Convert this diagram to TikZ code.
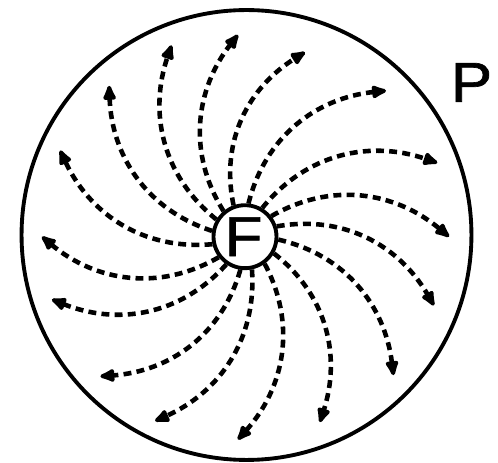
\documentclass[tikz,border=0pt]{standalone}
\usepackage{fontspec}
\setmainfont{Liberation Sans}
\usetikzlibrary{arrows.meta,calc}
\begin{document}
\begin{tikzpicture}[x=0.02cm,y=0.02cm,
  ring/.style={draw, line width=2.2pt, circle, inner sep=0pt},
  flow/.style={line width=2.6pt, dash pattern=on 4.5pt off 3pt,
    -{Latex[length=11pt,width=9pt,round]}},
  letter/.style={font=\fontsize{32}{32}\selectfont\addfontfeature{FakeBold=1.2}, inner sep=0pt}]
\useasboundingbox (0,0) rectangle (498,463);
\node[ring, minimum size=9.0cm] (Pc) at (246.5,228) {};
\node[ring, minimum size=1.26cm] (F) at (245,226.3) {};
\node[letter] (Fl) at (243.5,226.3) {\scalebox{1.1}[1]{F}};
\node[letter] (Pl) at (471.5,380.5) {\scalebox{1.1}[1]{P}};
\foreach \n/\a/\r in {a/92/196, b/111/199, c/72/188, d/46/197, e/21/200,
    f/0/198, g/-20/195, h/-43/197, i/-68/194, j/-92/197, k/-116/199,
    l/-136/195, m/-162/197, n/180/197, o/155/198, p/132/197}
  \coordinate (t\n) at ($(F)+(\a:\r+6)$);
\foreach \n/\a [evaluate=\a as \s using int(\a+38),
                evaluate=\a as \o using int(\a+30),
                evaluate=\a as \i using int(\a+140)] in
   {a/92, b/111, c/72, d/46, e/21, f/0, g/-20, h/-43, i/-68, j/-92,
    k/-116, l/-136, m/-162, n/180, o/155, p/132}
  \draw[flow] (F.\s) to[out=\o, in=\i] (t\n);
\end{tikzpicture}
\end{document}
